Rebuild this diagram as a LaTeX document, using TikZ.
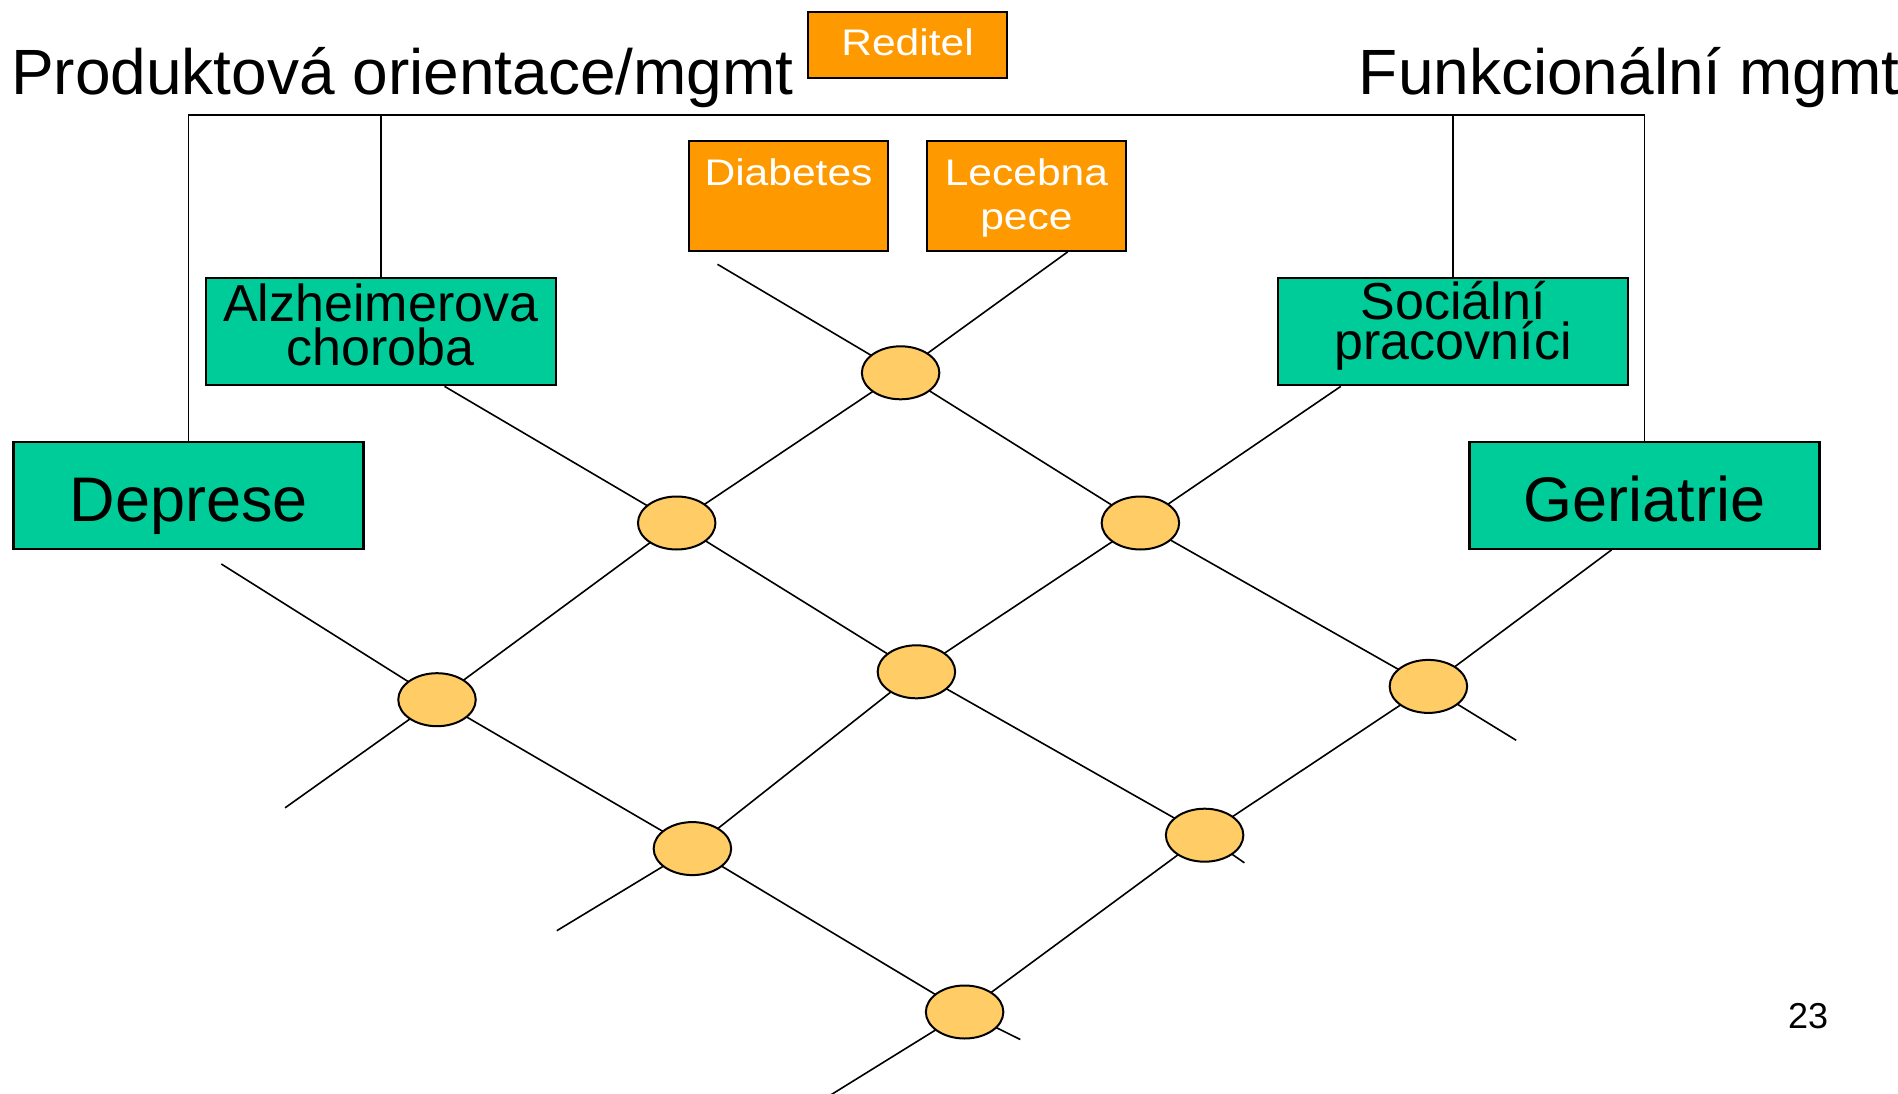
\documentclass[tikz,border=0pt]{standalone}
\usepackage{fontspec}
\setmainfont{Liberation Sans}
\newfontfamily\widesans[FakeStretch=1.15]{Liberation Sans}
\usetikzlibrary{shapes.geometric}
\definecolor{boxorange}{HTML}{FF9900}
\definecolor{boxgreen}{HTML}{00CC99}
\definecolor{hubfill}{HTML}{FFCC66}
\pgfdeclarelayer{bg}
\pgfsetlayers{bg,main}
\tikzset{
  box/.style={draw=black, line width=2.3pt, inner sep=0pt, align=center},
  orangebox/.style={box, fill=boxorange, text=white, minimum width=199pt,
    font=\widesans\fontsize{37}{44}\selectfont},
  greenbox/.style={box, fill=boxgreen, text=black, minimum width=350pt, minimum height=107pt},
  hub/.style={ellipse, draw=black, line width=2pt, fill=hubfill,
    minimum width=77.5pt, minimum height=53pt, inner sep=0pt},
  link/.style={draw=black, line width=1.6pt},
  heading/.style={anchor=base west, inner sep=0pt, font=\fontsize{64}{77}\selectfont}
}
\begin{document}
\begin{tikzpicture}[x=1pt,y=-1pt]
\useasboundingbox (0,0) rectangle (1898,1094);

% headings
\node[heading] (prod) at (11,94.3) {Produktová orientace/mgmt};
\node[heading] (func) at (1358.7,94.3) {Funkcionální mgmt};
\node[anchor=base west, inner sep=0pt, font=\fontsize{36}{43}\selectfont] (pg) at (1788,1028) {23};

% orange boxes
\node[orangebox, minimum height=66pt, text height=30pt, text depth=8pt] (red) at (907.5,45) {Reditel};
\node[orangebox, minimum height=110pt, text height=23pt, text depth=43.6pt] (dia) at (788.5,195.8) {Diabetes};
\node[orangebox, minimum height=110pt, text height=83pt, text depth=15pt] (lec) at (1026.4,195.8) {Lecebna\\pece};

% green boxes
\node[greenbox, font=\fontsize{52}{44}\selectfont, text height=80pt, text depth=13.4pt] (alz) at (380.7,331.7) {Alzheimerova\\choroba};
\node[greenbox, font=\fontsize{52}{38}\selectfont, text height=70pt, text depth=14.4pt] (soc) at (1453.2,331.7) {Sociální\\pracovníci};
\node[greenbox, font=\fontsize{63}{75}\selectfont, text height=52pt, text depth=0pt] (dep) at (188.6,495.2) {Deprese};
\node[greenbox, font=\fontsize{63}{75}\selectfont, text height=52pt, text depth=0pt] (geri) at (1644.6,495.2) {Geriatrie};

% hubs
\node[hub] (e1) at (900.6,372.8) {};
\node[hub] (e2) at (676.7,523.0) {};
\node[hub] (e3) at (1140.4,523.0) {};
\node[hub] (e4) at (437.0,699.7) {};
\node[hub] (e5) at (916.4,671.8) {};
\node[hub] (e6) at (1428.4,686.4) {};
\node[hub] (e7) at (692.4,848.6) {};
\node[hub] (e8) at (1204.6,835.2) {};
\node[hub] (e9) at (964.6,1012.0) {};

% free ends and attachment abscissae
\coordinate (bus) at (0,115);
\coordinate (l1s) at (717.5,264.3);
\coordinate (l1e) at (1516.2,740.3);
\coordinate (l2x) at (444.5,0);
\coordinate (l2e) at (1244.4,862.8);
\coordinate (l3s) at (221.3,564);
\coordinate (l3e) at (1020.3,1039.5);
\coordinate (m1x) at (1067.6,0);
\coordinate (m1e) at (285.1,807.8);
\coordinate (m2x) at (1340.8,0);
\coordinate (m2e) at (556.8,930.7);
\coordinate (m3x) at (1611.6,0);
\coordinate (m3e) at (829,1096);

\begin{pgfonlayer}{bg}
  % top bus
  \draw[link] (dep.north) -- (dep.north |- bus) -- (geri.north |- bus) -- (geri.north);
  \draw[link] (alz.north) -- (alz.north |- bus);
  \draw[link] (soc.north) -- (soc.north |- bus);
  % down-right lines
  \draw[link] (l1s) -- (e1.center) -- (e3.center) -- (e6.center) -- (l1e);
  \draw[link] (alz.south -| l2x) -- (e2.center) -- (e5.center) -- (e8.center) -- (l2e);
  \draw[link] (l3s) -- (e4.center) -- (e7.center) -- (e9.center) -- (l3e);
  % up-right lines
  \draw[link] (lec.south -| m1x) -- (e1.center) -- (e2.center) -- (e4.center) -- (m1e);
  \draw[link] (soc.south -| m2x) -- (e3.center) -- (e5.center) -- (e7.center) -- (m2e);
  \draw[link] (geri.south -| m3x) -- (e6.center) -- (e8.center) -- (e9.center) -- (m3e);
\end{pgfonlayer}
\end{tikzpicture}
\end{document}
